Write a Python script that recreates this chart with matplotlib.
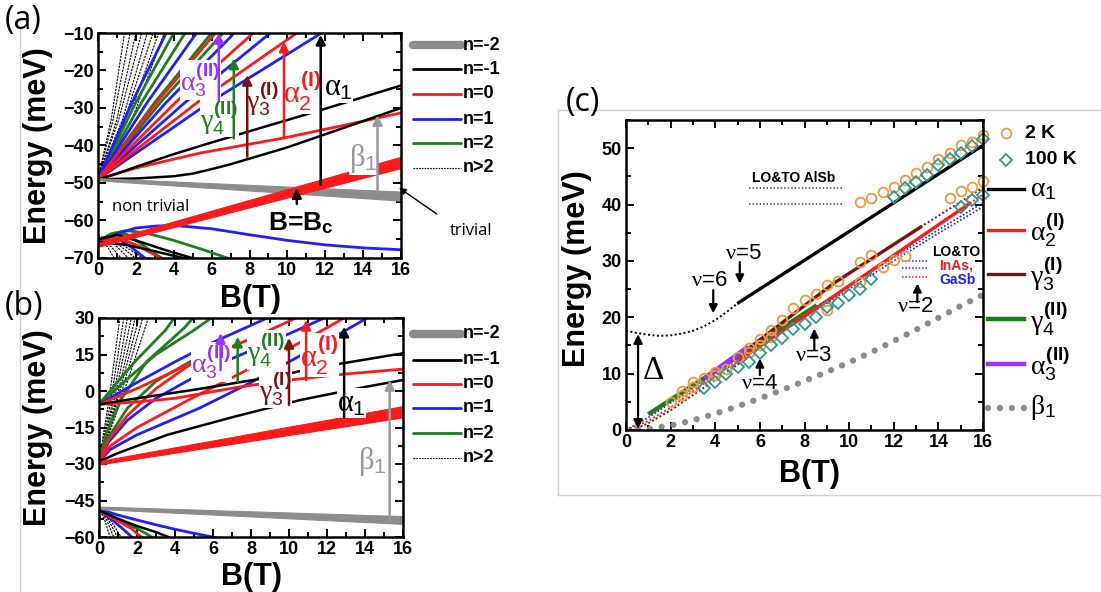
'''
Landau level fans (a), (b) and magneto-optical transitions (c).
'''
import matplotlib
matplotlib.use('Agg')
from matplotlib import pyplot as plt
from matplotlib.lines import Line2D
from matplotlib.ticker import MultipleLocator

plt.rcParams['font.family'] = ['Liberation Sans', 'DejaVu Sans']
plt.rcParams['mathtext.fontset'] = 'custom'
plt.rcParams['mathtext.rm'] = 'Liberation Serif'
plt.rcParams['mathtext.it'] = 'Liberation Serif'
plt.rcParams['mathtext.bf'] = 'Liberation Sans:bold'
plt.rcParams['mathtext.sf'] = 'Liberation Sans'

RED = '#ff1a1a'
BLUE = '#1f1fff'
GREEN = '#1e7d1e'
GRAY = '#8c8c8c'
DRED = '#7b1212'
PURPLE = '#9933ff'
ORANGE = '#f39a3f'
TEAL = '#2c9990'

# ---------------- panel (a) data (B in T, E in meV) ----------------
band_B = [0, 16]
a_gray_lo = [-49.3, -54.7]
a_gray_hi = [-48.7, -52.3]
a_red_lo = [-67.0, -46.0]
a_red_hi = [-66.0, -43.0]
a_black = [
    [(0, -49), (1, -47.5), (2, -45.7), (4, -42.3), (6, -39.2), (8, -36.2),
     (10, -33.2), (12, -30.2), (14, -27.1), (16, -24)],
    [(0, -49), (2, -48.8), (4, -48.2), (5, -47.5), (6, -46.3), (7, -45),
     (8, -43.5), (10, -40.5), (12, -37), (14, -33.5), (16, -30)],
    [(0, -65), (1, -63.8), (2, -65.3), (3.5, -67.8), (5.3, -70.5)],
    [(0, -65.7), (1.5, -66.5), (3, -68.2), (4.9, -70.5)],
]
a_red = [
    [(0, -49), (2, -46), (5.4, -42), (9.8, -38), (13, -34.6), (16, -31.3)],
    [(0, -49), (5.25, -28.5), (10.5, -10)],
    [(0, -49), (4.1, -28.5), (8.2, -10)],
    [(0, -49), (3.1, -28.5), (6.2, -10)],
    [(0, -66), (1, -64.5), (2, -66.5), (3.5, -70.5)],
]
a_blue = [
    [(0, -49), (5.9, -28.5), (11.8, -10)],
    [(0, -49), (4.6, -28.5), (9.1, -10)],
    [(0, -49), (3.6, -28.5), (7.2, -10)],
    [(0, -49), (2.6, -28.5), (5.2, -10)],
    [(0, -49), (1.8, -28.5), (3.6, -10)],
    [(0, -66.5), (1, -63.5), (2, -62), (3, -61.5), (4, -61.3), (6, -62.2),
     (8, -63.8), (10, -65.3), (12, -66.5), (14, -67.3), (16, -67.8)],
    [(0, -65.5), (0.8, -64.3), (1.6, -66.5), (2.6, -70.5)],
]
a_green = [
    [(0, -49), (3.3, -28.5), (6.6, -10)],
    [(0, -49), (3.0, -28.5), (6.0, -10)],
    [(0, -49), (2.3, -28.5), (4.6, -10)],
    [(0, -49), (2.0, -28.5), (4.0, -10)],
    [(0, -65.5), (0.7, -63.5), (1.5, -62.7), (2.5, -63.3), (4, -65.3),
     (5.5, -67.7), (7, -70.3)],
    [(0, -66), (0.7, -63.7), (1.5, -63.6), (2.2, -66), (3, -68.8), (3.5, -70.5)],
]
a_dotted = [
    [(0, -49), (0.7, -33), (1.4, -10)],
    [(0, -49), (0.8, -33), (1.7, -10)],
    [(0, -49), (1.0, -33), (2.0, -10)],
    [(0, -49), (1.1, -33), (2.3, -10)],
    [(0, -49), (1.3, -33), (2.6, -10)],
    [(0, -49), (1.4, -33), (2.9, -10)],
    [(0, -49), (1.6, -33), (3.2, -10)],
    [(0, -49), (1.8, -33), (3.5, -10)],
    [(0, -65), (0.5, -67), (0.9, -70.5)],
    [(0, -65), (0.7, -67), (1.3, -70.5)],
    [(0, -64.5), (0.9, -66.5), (1.7, -70.5)],
    [(0, -64.5), (1.1, -66.5), (2.1, -70.5)],
    [(0, -64), (1.3, -66.5), (2.5, -70.5)],
]

# ---------------- panel (b) data ----------------
b_gray_lo = [-48.5, -54.6]
b_gray_hi = [-47.5, -51.4]
b_red_lo = [-30.2, -10.8]
b_red_hi = [-28.8, -6.2]
b_black = [
    [(0, -29), (1, -25.5), (3.6, -18), (7.1, -10.6), (10.6, -3.7), (14.1, 1.8),
     (16, 4.5)],
    [(0, -5.5), (2, -3), (5, 0.5), (8.5, 5), (12.3, 10.7), (16, 15.5)],
    [(0, -49), (1, -52.5), (2, -55.5), (3, -58), (3.8, -60.5)],
]
b_red = [
    [(0, -5.5), (2, -4.5), (4, -3), (7.5, 1.8), (10, 4.5), (13, 7), (16, 9)],
    [(0, -29), (0.6, -22.5), (2, -15), (5, -2.5), (8, 9.5), (10, 17.5),
     (12, 26), (13, 30.5)],
    [(0, -5.5), (2, 1), (5, 12), (8, 21.5), (10.5, 30.5)],
    [(0, -29), (0.5, -20), (1.5, -10), (3, 1), (5, 12)],
    [(0, -49), (1, -53.5), (1.7, -56.5), (2.3, -60.5)],
]
b_blue = [
    [(0, -29), (0.6, -24), (2, -18), (5.3, -7), (8, 3.5), (10, 12),
     (12, 20.5), (14, 29.5), (14.2, 30.5)],
    [(0, -29), (0.5, -21), (1.5, -12), (3, -3), (6, 10), (9, 20), (12, 30.5)],
    [(0, -5.5), (2, 3.5), (4, 12), (6, 20), (8, 27), (9, 30.5)],
    [(0, -48.5), (1, -51), (2, -53), (3, -55), (4, -56.8), (5, -58.5),
     (6.3, -60.5)],
    [(0, -49), (0.7, -53), (1.3, -57), (1.8, -60.5)],
]
b_green = [
    [(0, -29), (0.5, -19), (1.5, -7), (3, 4), (5, 13)],
    [(0, -29), (0.4, -17), (1.2, -3), (2.5, 12), (4.5, 26), (5, 30.5)],
    [(0, -5.5), (1.5, 5), (3, 15), (5, 25), (6, 30.5)],
    [(0, -5.5), (1, 4), (2, 13), (3.5, 25), (4, 30.5)],
    [(0, -49), (1, -53), (2, -56.5), (2.9, -60.5)],
]
b_dotted = [
    [(0, -29), (0.5, -5), (1.1, 30)],
    [(0, -29), (0.6, -5), (1.3, 30)],
    [(0, -29), (0.7, -5), (1.5, 30)],
    [(0, -29), (0.8, -4), (1.7, 30)],
    [(0, -29), (0.9, -4), (1.9, 30)],
    [(0, -29), (1.0, -3), (2.1, 30)],
    [(0, -29), (1.1, -3), (2.3, 30)],
    [(0, -29), (1.2, -3), (2.6, 30)],
    [(0, -48), (0.3, -53), (0.6, -60.5)],
    [(0, -48), (0.4, -53), (0.8, -60.5)],
    [(0, -48), (0.5, -53), (1.0, -60.5)],
    [(0, -48), (0.6, -53), (1.2, -60.5)],
]

# ---------------- panel (c) data ----------------
k2_B = [2.0, 2.5, 2.5, 3.0, 3.0, 3.5, 4.0, 4.0, 4.5, 5.0, 5.5, 5.5, 6.0, 6.0,
        6.5, 6.5, 7.0, 7.5, 8.0, 8.5, 9.0, 9.0, 9.5, 10.5, 10.5, 11.0, 11.5,
        12.0, 12.5,
        10.5, 11.0, 11.5, 12.0, 12.5, 13.0, 13.5, 14.0, 14.5, 15.0, 15.5, 16.0,
        14.5, 15.0, 15.5, 16.0]
k2_E = [5.0, 7.0, 6.2, 8.6, 7.6, 9.2, 10.3, 9.8, 10.9, 13.0, 13.9, 14.5, 16.1,
        15.1, 17.7, 16.5, 19.5, 21.7, 23.0, 24.2, 25.7, 21.3, 26.4, 29.8, 26.3,
        31.0, 29.0, 30.1, 30.9,
        40.5, 41.2, 42.3, 43.1, 44.3, 45.6, 46.7, 48.0, 49.1, 50.5, 51.1, 52.3,
        41.1, 42.4, 43.1, 44.1]
k100_B = [3.5, 4.0, 4.5, 5.0, 5.5, 6.0, 6.5, 7.0, 7.5, 8.0, 8.5, 9.0, 9.5,
          10.0, 10.5, 11.0,
          12.0, 12.5, 13.0, 13.5, 14.0, 14.5, 15.0, 15.5, 16.0,
          15.0, 15.5, 16.0]
k100_E = [7.4, 8.6, 10.0, 11.2, 12.1, 13.6, 15.1, 16.3, 18.0, 18.8, 20.0,
          21.9, 22.6, 23.9, 25.1, 26.8,
          41.3, 42.9, 44.0, 45.2, 47.1, 48.0, 49.1, 50.4, 51.7,
          39.5, 40.8, 41.7]

c_alpha1 = [(5.05, 22.6), (16, 50.5)]
c_alpha1_dot = [(0, 17.6), (0.5, 17.2), (1, 16.9), (1.5, 16.7), (2, 16.8),
                (2.5, 17.1), (3, 17.6), (3.5, 18.4), (4, 19.5), (4.5, 20.9),
                (5.05, 22.6)]
c_alpha2 = [(5, 12.2), (8, 20.2), (10, 25.6), (12, 31.0), (14, 36.4),
            (15.4, 40.2)]
c_alpha2_dot = [[(0, 0), (1, 1.6), (2, 4.0), (3, 6.9), (4, 9.6), (5, 12.2)],
                [(15.4, 40.2), (16, 41.8)]]
c_gamma3 = [(5.5, 14.5), (9.3, 26.0), (13.2, 36.0)]
c_gamma3_dot = [[(0.3, 0), (1, 1.2), (2, 3.5), (3, 6.2), (4, 8.9), (5, 11.6),
                 (5.5, 13.0)],
                [(13.2, 36.0), (16, 43.0)]]
c_gamma4 = [(1.08, 3.0), (8.47, 21.9)]
c_alpha3 = [(3.6, 9.4), (5.4, 14.5)]
c_blue_dot = [[(0, 0), (1, 2.2), (2, 4.8), (4, 10.0), (6, 15.3), (8, 20.5),
               (10, 25.6), (12, 30.6), (14, 35.5), (16, 40.3)],
              [(8, 20.0), (10, 25.0), (12, 30.0), (14, 34.9), (16, 39.6)]]
c_beta1 = [(0, 0), (1, 0.2), (2, 0.8), (3, 1.7), (4, 2.9), (5, 4.2), (6, 5.6),
           (7, 7.1), (8, 8.7), (9, 10.3), (10, 12.0), (11, 13.8), (12, 15.8),
           (13, 17.8), (14, 19.9), (15, 22.0), (16, 24.0)]
alsb_E = [42.9, 40.1]
alsb_B = [5.5, 9.7]
inas_gasb_E = [29.9, 28.8, 27.1]
inas_gasb_col = [BLUE, BLUE, RED]
inas_gasb_B = [12.35, 13.6]


def fx(px):
    return px / 1101.0


def fy(py):
    return 1 - py / 592.0


def add_axes_px(fig, x0, y0, x1, y1):
    return fig.add_axes([fx(x0), fy(y1), fx(x1 - x0), (y1 - y0) / 592.0])


def draw(ax, curves, color, lw, ls='-', **kw):
    for c in curves:
        ax.plot([p[0] for p in c], [p[1] for p in c], color=color, lw=lw,
                ls=ls, **kw)


def style_axes(ax, ymaj, ymin):
    ax.set_xlim(0, 16)
    ax.xaxis.set_major_locator(MultipleLocator(2))
    ax.xaxis.set_minor_locator(MultipleLocator(1))
    ax.yaxis.set_major_locator(MultipleLocator(ymaj))
    ax.yaxis.set_minor_locator(MultipleLocator(ymin))
    ax.tick_params(which='both', direction='in', top=True, right=True,
                   width=1.4, labelsize=13)
    ax.tick_params(which='major', length=6)
    ax.tick_params(which='minor', length=3.5)
    ax.tick_params(axis='y', pad=3)
    ax.tick_params(axis='x', pad=3)
    for lab in ax.get_xticklabels() + ax.get_yticklabels():
        lab.set_fontweight('bold')
    for s in ax.spines.values():
        s.set_linewidth(1.8)
        s.set_zorder(6)


def arrow(ax, x, y0, y1, color, lw=1.8, ms=14):
    ax.annotate('', xy=(x, y1), xytext=(x, y0), zorder=5,
                arrowprops=dict(arrowstyle='-|>', color=color, lw=lw,
                                mutation_scale=ms, shrinkA=0, shrinkB=0))


def fan_panel(ax, gray_lo, gray_hi, red_lo, red_hi, black, red, blue, green,
              dotted):
    draw(ax, dotted, 'black', 0.8, ls=(0, (2, 1)))
    draw(ax, green, GREEN, 2.0)
    draw(ax, blue, BLUE, 2.0)
    draw(ax, red, RED, 2.0)
    draw(ax, black, 'black', 1.8)
    ax.fill_between(band_B, gray_lo, gray_hi, color=GRAY, lw=0.8, zorder=2.5)
    ax.fill_between(band_B, red_lo, red_hi, color=RED, lw=0.8, zorder=2.6)


def fan_legend(fig, rows_y):
    specs = [('n=-2', GRAY, 6, '-'), ('n=-1', 'black', 2, '-'),
             ('n=0', RED, 2, '-'), ('n=1', BLUE, 2, '-'),
             ('n=2', GREEN, 2, '-'), ('n>2', 'black', 0.8, (0, (1.5, 1)))]
    for (lab, col, lw, ls), y in zip(specs, rows_y):
        fig.add_artist(Line2D([fx(413), fx(461)], [fy(y), fy(y)], color=col,
                              lw=lw, ls=ls, solid_capstyle='round',
                              transform=fig.transFigure))
        fig.text(fx(463), fy(y), lab, fontsize=13, fontweight='bold',
                 va='center', ha='left')


def greek(ax, x, y, s, color, size=22):
    ax.text(x, y, s, color=color, fontsize=size, ha='center', va='center',
            zorder=4, bbox=dict(fc='white', ec='none', pad=0.3))


fig = plt.figure(figsize=(11.01, 5.92), dpi=100)

# ---------------- (a) ----------------
ax = add_axes_px(fig, 98, 33, 401, 258)
fan_panel(ax, a_gray_lo, a_gray_hi, a_red_lo, a_red_hi, a_black, a_red,
          a_blue, a_green, a_dotted)
style_axes(ax, 10, 5)
ax.set_ylim(-70, -10)
greek(ax, 12.7, -24.5, r'$\alpha_{\mathsf{1}}$', 'black')
greek(ax, 10.8, -25.5, r'$\alpha_{\mathsf{2}}^{\mathbf{(I)}}$', RED)
greek(ax, 8.7, -27.5, r'$\gamma_{\mathsf{3}}^{\mathbf{(I)}}$', DRED, 20)
greek(ax, 6.4, -32.5, r'$\gamma_{\mathsf{4}}^{\mathbf{(II)}}$', GREEN, 20)
greek(ax, 5.4, -22.5, r'$\alpha_{\mathsf{3}}^{\mathbf{(II)}}$', PURPLE, 20)
greek(ax, 14.0, -43.5, r'$\beta_{\mathsf{1}}$', '#999999')
arrow(ax, 11.76, -50.5, -10.5, 'black')
arrow(ax, 9.82, -38.1, -12.3, RED)
arrow(ax, 7.88, -43.0, -21.2, DRED)
arrow(ax, 7.17, -38.1, -16.8, GREEN)
arrow(ax, 6.38, -27.9, -10.0, PURPLE)
arrow(ax, 14.76, -52.6, -31.9, '#999999')
arrow(ax, 10.5, -55.6, -51.4, 'black')
ax.text(10.7, -60.6, r'B=B$_{\mathbf{c}}$', fontsize=19, fontweight='bold',
        ha='center', va='center')
ax.text(0.74, -56.4, 'non trivial', fontsize=12, family='Open Sans',
        ha='left', va='center')
ax.annotate('trivial', xy=(15.9, -51.3), xytext=(19.7, -62.8),
            fontsize=12, family='Open Sans', ha='center', va='center',
            annotation_clip=False,
            arrowprops=dict(arrowstyle='-|>', color='black', lw=1.0,
                            mutation_scale=10, shrinkA=9, shrinkB=0,
                            relpos=(0.0, 1.0)))
ax.set_ylabel('Energy (meV)', fontsize=22, fontweight='bold')
ax.yaxis.set_label_coords(-0.148, 0.5)
ax.set_xlabel('B(T)', fontsize=22, fontweight='bold')
ax.xaxis.set_label_coords(0.502, -0.115)
fan_legend(fig, [45, 69, 94, 119, 143, 168])

# ---------------- (b) ----------------
ax = add_axes_px(fig, 99, 318, 403, 537)
fan_panel(ax, b_gray_lo, b_gray_hi, b_red_lo, b_red_hi, b_black, b_red,
          b_blue, b_green, b_dotted)
style_axes(ax, 15, 7.5)
ax.set_ylim(-60, 30)
greek(ax, 5.9, 12.0, r'$\alpha_{\mathsf{3}}^{\mathbf{(II)}}$', PURPLE, 20)
greek(ax, 8.8, 16.9, r'$\gamma_{\mathsf{4}}^{\mathbf{(II)}}$', GREEN, 20)
greek(ax, 9.3, 1.1, r'$\gamma_{\mathsf{3}}^{\mathbf{(I)}}$', DRED, 20)
greek(ax, 11.6, 14.8, r'$\alpha_{\mathsf{2}}^{\mathbf{(I)}}$', RED)
greek(ax, 13.3, -5.0, r'$\alpha_{\mathsf{1}}$', 'black')
greek(ax, 14.4, -29.0, r'$\beta_{\mathsf{1}}$', '#999999')
arrow(ax, 12.9, -11.0, 26.4, 'black')
arrow(ax, 10.9, 4.5, 29.2, RED)
arrow(ax, 10.0, -5.7, 21.8, DRED)
arrow(ax, 7.3, 3.8, 22.3, GREEN)
arrow(ax, 6.4, 8.6, 23.8, PURPLE)
arrow(ax, 15.3, -53.0, 4.5, '#999999')
ax.set_ylabel('Energy (meV)', fontsize=22, fontweight='bold')
ax.yaxis.set_label_coords(-0.151, 0.5)
ax.set_xlabel('B(T)', fontsize=22, fontweight='bold')
ax.xaxis.set_label_coords(0.502, -0.112)
fan_legend(fig, [334, 360, 384, 408, 433, 458])

# ---------------- (c) ----------------
ax = add_axes_px(fig, 626, 120, 983, 430)
ax.set_ylim(0, 55)
for c in c_alpha2_dot:
    ax.plot([p[0] for p in c], [p[1] for p in c], color=RED, lw=1.4,
            ls=(0, (1, 1.2)))
for c in c_gamma3_dot:
    ax.plot([p[0] for p in c], [p[1] for p in c], color=DRED, lw=1.4,
            ls=(0, (1, 1.2)))
for c in c_blue_dot:
    ax.plot([p[0] for p in c], [p[1] for p in c], color=BLUE, lw=1.2,
            ls=(0, (1, 1.2)))
draw(ax, [c_alpha1_dot], 'black', 1.4, ls=(0, (1, 1.3)))
draw(ax, [c_beta1], GRAY, 4.5, ls=(0, (0.01, 1.9)),
     dash_capstyle='round')
draw(ax, [c_gamma4], GREEN, 3.2)
draw(ax, [c_alpha2], RED, 2.4)
draw(ax, [c_gamma3], DRED, 2.4)
draw(ax, [c_alpha3], PURPLE, 3.6)
draw(ax, [c_alpha1], 'black', 2.4)
for e in alsb_E:
    ax.plot(alsb_B, [e, e], color='#444444', lw=1.1, ls=(0, (1, 1.3)))
for e, col in zip(inas_gasb_E, inas_gasb_col):
    ax.plot(inas_gasb_B, [e, e], color=col, lw=1.1, ls=(0, (1, 1.2)))
ax.plot(k2_B, k2_E, ls='none', marker='o', ms=7, mfc='none', mec=ORANGE,
        mew=1.3, clip_on=False)
ax.plot(k100_B, k100_E, ls='none', marker='D', ms=6.5, mfc='none',
        mec=TEAL, mew=1.3, clip_on=False)
style_axes(ax, 10, 5)
ax.annotate('', xy=(0.54, 0.2), xytext=(0.54, 17.0),
            arrowprops=dict(arrowstyle='<|-|>', color='black', lw=1.6,
                            mutation_scale=13, shrinkA=0, shrinkB=0))
ax.text(1.2, 10.6, r'$\Delta$', fontsize=24, ha='center', va='center')
for bx, e0, e1 in [(5.1, 29.8, 26.0), (3.91, 24.8, 20.7)]:
    arrow(ax, bx, e0, e1, 'black', lw=1.6, ms=12)
for bx, e0, e1 in [(6.0, 9.75, 12.7), (8.44, 14.2, 18.0), (13.06, 22.7, 26.0)]:
    arrow(ax, bx, e0, e1, 'black', lw=1.6, ms=12)
for bx, e, s in [(5.26, 31.4, '5'), (3.73, 26.6, '6'), (5.98, 8.3, '4'),
                 (8.4, 13.3, '3'), (12.95, 21.9, '2')]:
    ax.text(bx, e, r'$\nu$=' + s, fontsize=16, ha='center', va='center')
ax.text(7.5, 44.7, 'LO&TO AlSb', fontsize=10, fontweight='bold',
        ha='center', va='center')
ax.text(14.82, 31.6, 'LO&TO', fontsize=10, fontweight='bold',
        ha='center', va='center')
ax.text(14.8, 29.2, 'InAs,', fontsize=10, fontweight='bold', color=RED,
        ha='center', va='center')
ax.text(14.85, 26.7, 'GaSb', fontsize=10, fontweight='bold', color=BLUE,
        ha='center', va='center')
ax.set_ylabel('Energy (meV)', fontsize=22, fontweight='bold')
ax.yaxis.set_label_coords(-0.095, 0.52)
ax.set_xlabel('B(T)', fontsize=22, fontweight='bold')
ax.xaxis.set_label_coords(0.515, -0.095)

# legend of (c)
fig.add_artist(Line2D([fx(1006)], [fy(133)], marker='o', ms=7, mfc='none',
                      mec=ORANGE, mew=1.3, transform=fig.transFigure))
fig.add_artist(Line2D([fx(1006)], [fy(160)], marker='D', ms=6.5, mfc='none',
                      mec=TEAL, mew=1.3, transform=fig.transFigure))
fig.text(fx(1025), fy(133), '2 K', fontsize=14, fontweight='bold', va='center')
fig.text(fx(1025), fy(160), '100 K', fontsize=14, fontweight='bold',
         va='center')
c_leg = [(r'$\alpha_{\mathsf{1}}$', 'black', 189, '-', 2.4),
         (r'$\alpha_{\mathsf{2}}^{\mathbf{(I)}}$', RED, 230, '-', 2.4),
         (r'$\gamma_{\mathsf{3}}^{\mathbf{(I)}}$', DRED, 274, '-', 2.4),
         (r'$\gamma_{\mathsf{4}}^{\mathbf{(II)}}$', GREEN, 319, '-', 3.2),
         (r'$\alpha_{\mathsf{3}}^{\mathbf{(II)}}$', PURPLE, 364, '-', 3.2),
         (r'$\beta_{\mathsf{1}}$', GRAY, 408, (0, (0.01, 1.9)), 4.5)]
for lab, col, y, ls, lw in c_leg:
    fig.add_artist(Line2D([fx(988), fx(1024)], [fy(y), fy(y)], color=col,
                          lw=lw, ls=ls, dash_capstyle='round',
                          transform=fig.transFigure))
    fig.text(fx(1030), fy(y), lab, fontsize=20, va='center', ha='left')

# panel letters and frames
fig.text(fx(5), fy(20), '(a)', fontsize=23, family='Open Sans', va='center')
fig.text(fx(5), fy(306), '(b)', fontsize=23, family='Open Sans', va='center')
fig.text(fx(566), fy(103), '(c)', fontsize=23, family='Open Sans',
         va='center')
frame = dict(color='#d0d0d0', lw=1.0, transform=fig.transFigure)
fig.add_artist(Line2D([fx(20), fx(20)], [fy(28), fy(592)], **frame))
fig.add_artist(Line2D([fx(558), fx(1101)], [fy(110), fy(110)], **frame))
fig.add_artist(Line2D([fx(558), fx(1101)], [fy(495), fy(495)], **frame))
fig.add_artist(Line2D([fx(558), fx(558)], [fy(110), fy(495)], **frame))

fig.savefig('out.png', dpi=100)
